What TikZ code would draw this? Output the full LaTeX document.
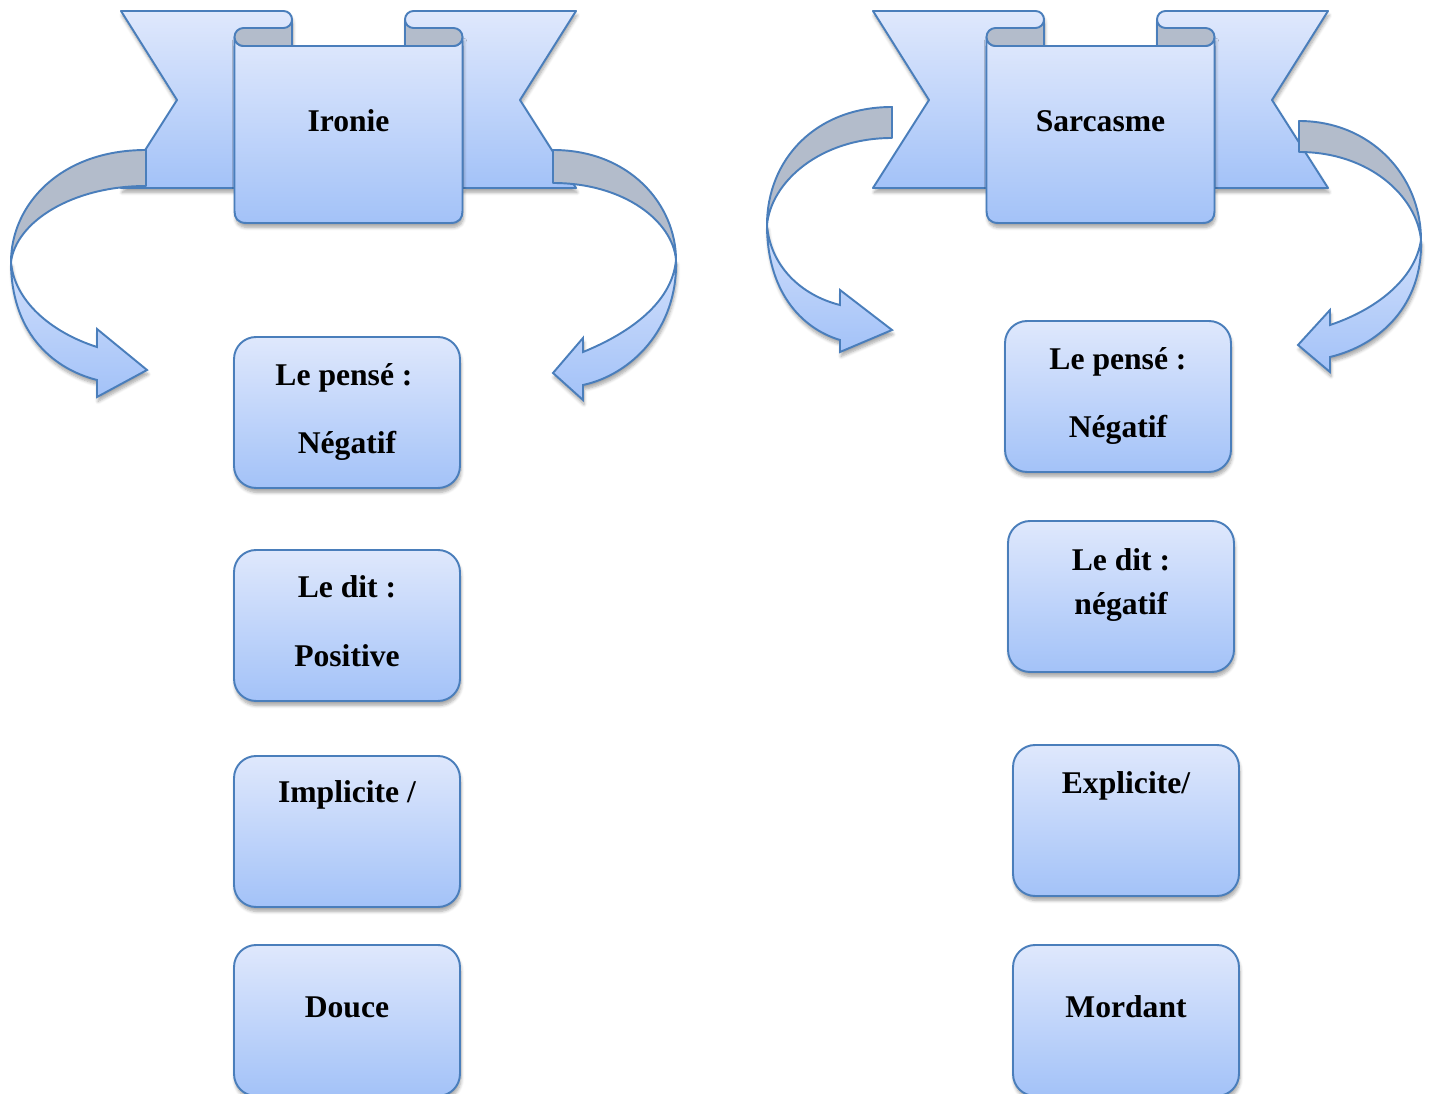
\documentclass[tikz,border=0pt]{standalone}
\usepackage{fontspec}
\setmainfont{Liberation Serif}
\usetikzlibrary{shadows.blur}
\definecolor{rbline}{HTML}{4A7EBB}
\definecolor{rbtop}{HTML}{DFE8FC}
\definecolor{rbbot}{HTML}{A3C2F8}
\definecolor{rbgray}{HTML}{B3BCCB}
\tikzset{
  ribbon/.style={draw=rbline, line width=1.1pt, line join=round, top color=rbtop, bottom color=rbbot},
  fold/.style={draw=rbline, line width=1.1pt, line join=round, fill=rbgray},
  band/.style={draw=rbline, line width=1.1pt, top color=rbtop!75!rbbot, bottom color=rbbot},
  softshadow/.style={blur shadow={shadow xshift=0.6pt, shadow yshift=-2.5pt, shadow opacity=35, shadow blur steps=6}},
  box/.style={draw=rbline, line width=1.1pt, rounded corners=0.44cm, minimum width=4.52cm, minimum height=3.02cm, top color=rbtop, bottom color=rbbot, softshadow},
  word/.style={font=\bfseries\fontsize{18}{22}\selectfont, anchor=base, inner sep=0pt},
}

\begin{document}
\begin{tikzpicture}[x=0.02cm, y=-0.02cm]
  \useasboundingbox (0,0) rectangle (1431,1094);
  \clip (0,0) rectangle (1431,1094);

  % banner Ironie
  \begin{scope}[shift={(348.5,0)}]
    \path[ribbon, softshadow] (-227.5,11) -- (-65,11) .. controls (-60,11) and (-56.5,15) .. (-56.5,19.5) -- (-56.5,46) -- (-114,46) -- (-114,188) -- (-227.5,188) -- (-171.5,100) -- cycle;
    \path[ribbon, softshadow] (227.5,11) -- (65,11) .. controls (60,11) and (56.5,15) .. (56.5,19.5) -- (56.5,46) -- (114,46) -- (114,188) -- (227.5,188) -- (171.5,100) -- cycle;
    \path[ribbon, softshadow] (-114,37) .. controls (-114,42) and (-110,46) .. (-105,46) -- (105,46) .. controls (110,46) and (114,42) .. (114,37) -- (114,211) .. controls (114,218) and (111,223) .. (102,223) -- (-102,223) .. controls (-111,223) and (-114,218) .. (-114,211) -- cycle;
    \path[fold] (-114,37) .. controls (-114,32) and (-110,28) .. (-105,28) -- (-65,28) .. controls (-60,28) and (-56.5,24) .. (-56.5,19.5) -- (-56.5,46) -- (-105,46) .. controls (-110,46) and (-114,42) .. (-114,37) -- cycle;
    \path[fold] (114,37) .. controls (114,32) and (110,28) .. (105,28) -- (65,28) .. controls (60,28) and (56.5,24) .. (56.5,19.5) -- (56.5,46) -- (105,46) .. controls (110,46) and (114,42) .. (114,37) -- cycle;
    \node[word] (ironie) at (0,132) {Ironie};
  \end{scope}

  % banner Sarcasme
  \begin{scope}[shift={(1100.5,0)}]
    \path[ribbon, softshadow] (-227.5,11) -- (-65,11) .. controls (-60,11) and (-56.5,15) .. (-56.5,19.5) -- (-56.5,46) -- (-114,46) -- (-114,188) -- (-227.5,188) -- (-171.5,100) -- cycle;
    \path[ribbon, softshadow] (227.5,11) -- (65,11) .. controls (60,11) and (56.5,15) .. (56.5,19.5) -- (56.5,46) -- (114,46) -- (114,188) -- (227.5,188) -- (171.5,100) -- cycle;
    \path[ribbon, softshadow] (-114,37) .. controls (-114,42) and (-110,46) .. (-105,46) -- (105,46) .. controls (110,46) and (114,42) .. (114,37) -- (114,211) .. controls (114,218) and (111,223) .. (102,223) -- (-102,223) .. controls (-111,223) and (-114,218) .. (-114,211) -- cycle;
    \path[fold] (-114,37) .. controls (-114,32) and (-110,28) .. (-105,28) -- (-65,28) .. controls (-60,28) and (-56.5,24) .. (-56.5,19.5) -- (-56.5,46) -- (-105,46) .. controls (-110,46) and (-114,42) .. (-114,37) -- cycle;
    \path[fold] (114,37) .. controls (114,32) and (110,28) .. (105,28) -- (65,28) .. controls (60,28) and (56.5,24) .. (56.5,19.5) -- (56.5,46) -- (105,46) .. controls (110,46) and (114,42) .. (114,37) -- cycle;
    \node[word] (sarcasme) at (0,132) {Sarcasme};
  \end{scope}

  % curved arrows
  \path[fold] (146,150) .. controls (60,150) and (11,205) .. (11,262) .. controls (16,222) and (72,186) .. (146,186) -- cycle;
  \path[band, softshadow] (11,262) .. controls (11,330) and (50,368) .. (97,380) -- (97,397) -- (147,370) -- (97,329) -- (97,347) .. controls (50,332) and (14,300) .. (11,262) -- cycle;
  \path[fold] (553,150) .. controls (630,150) and (676,205) .. (676,260) .. controls (673,222) and (625,183) .. (553,183) -- cycle;
  \path[band, softshadow] (676,260) .. controls (678,330) and (630,375) .. (583,385) -- (583,400) -- (553,373) -- (583,338) -- (583,352) .. controls (625,335) and (672,305) .. (676,260) -- cycle;
  \path[fold] (892,107) .. controls (815,107) and (767,160) .. (767,225) .. controls (771,182) and (820,138) .. (892,138) -- cycle;
  \path[band, softshadow] (767,225) .. controls (767,290) and (800,328) .. (840,340) -- (840,352) -- (892,330) -- (840,290) -- (840,305) .. controls (800,295) and (770,265) .. (767,225) -- cycle;
  \path[fold] (1299,121) .. controls (1370,121) and (1421,175) .. (1421,240) .. controls (1417,197) and (1370,152) .. (1299,152) -- cycle;
  \path[band, softshadow] (1421,240) .. controls (1423,305) and (1380,345) .. (1330,357) -- (1330,372) -- (1298,345) -- (1330,310) -- (1330,325) .. controls (1375,310) and (1415,280) .. (1421,240) -- cycle;

  % boxes Ironie
  \node[box] (i1) at (347,412.5) {};
  \node[box] (i2) at (347,625.5) {};
  \node[box] (i3) at (347,831.5) {};
  \node[box] (i4) at (347,1020.5) {};
  \node[word] (i1a) at (344,386) {Le pensé :};
  \node[word] (i1b) at (347,454) {Négatif};
  \node[word] (i2a) at (347,598) {Le dit :};
  \node[word] (i2b) at (347,667) {Positive};
  \node[word] (i3a) at (347,803) {Implicite /};
  \node[word] (i4a) at (347,1017) {Douce};

  % boxes Sarcasme
  \node[box] (s1) at (1118,396.5) {};
  \node[box] (s2) at (1121,596.5) {};
  \node[box] (s3) at (1126,820.5) {};
  \node[box] (s4) at (1126,1020.5) {};
  \node[word] (s1a) at (1118,370) {Le pensé :};
  \node[word] (s1b) at (1118,438) {Négatif};
  \node[word] (s2a) at (1121,571) {Le dit :};
  \node[word] (s2b) at (1121,615) {négatif};
  \node[word] (s3a) at (1126,793) {Explicite/};
  \node[word] (s4a) at (1126,1017) {Mordant};
\end{tikzpicture}
\end{document}
